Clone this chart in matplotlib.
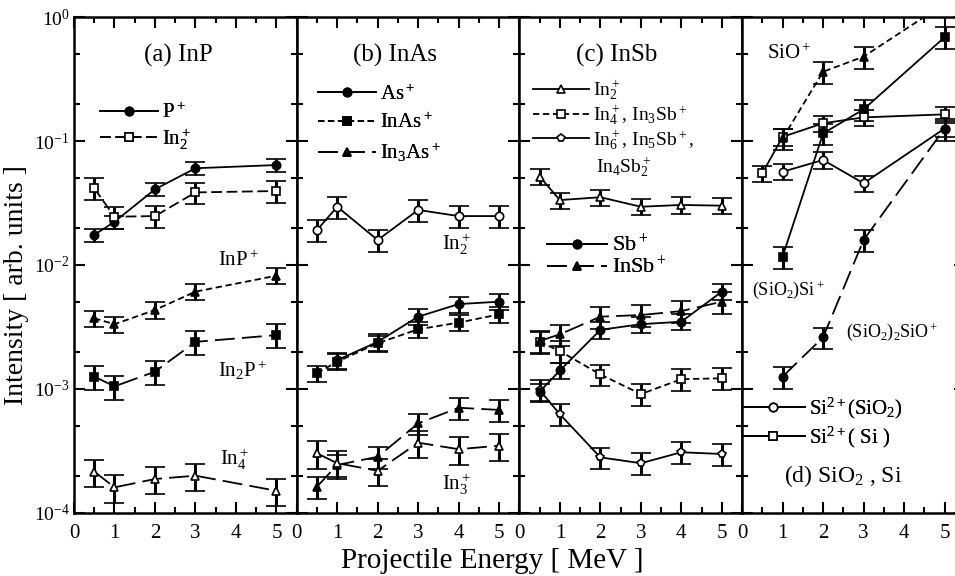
import matplotlib
matplotlib.use('Agg')
import matplotlib.pyplot as plt
from matplotlib.ticker import LogLocator, MultipleLocator, NullFormatter
import numpy as np

plt.rcParams['font.family'] = ['Liberation Serif', 'DejaVu Serif']
plt.rcParams['mathtext.fontset'] = 'custom'
plt.rcParams['mathtext.rm'] = 'Liberation Serif'
plt.rcParams['mathtext.it'] = 'Liberation Serif'
plt.rcParams['mathtext.default'] = 'regular'

# ---- data (energy in MeV, intensity in arb. units) ----
x_a = [0.5, 1, 2, 3, 5]
a_P = [0.0175, 0.0223, 0.0408, 0.0603, 0.064]
a_In2 = [0.0416, 0.0245, 0.0248, 0.0385, 0.0395]
a_InP = [0.00372, 0.00333, 0.00434, 0.0061, 0.0082]
a_In2P = [0.00126, 0.00105, 0.00138, 0.0024, 0.00272]
a_In4 = [0.000216, 0.000161, 0.000188, 0.0002, 0.000151]

x_b = [0.5, 1, 2, 3, 4, 5]
b_In2 = [0.0191, 0.0295, 0.0159, 0.0278, 0.0248, 0.0248]
x_b_As = [1, 2, 3, 4, 5]
b_As = [0.00171, 0.0024, 0.00383, 0.00484, 0.00506]
b_InAs = [0.00134, 0.00166, 0.00234, 0.00303, 0.00343, 0.0040]
b_In3As = [0.000163, 0.000244, 0.000284, 0.000528, 0.000706, 0.000678]
b_In3 = [0.000303, 0.000252, 0.000219, 0.000369, 0.000327, 0.000349]

x_c = [0.5, 1, 2, 3, 4, 5]
c_In2 = [0.0515, 0.0334, 0.0352, 0.0295, 0.0305, 0.0301]
c_In4 = [0.0024, 0.00202, 0.00131, 0.00091, 0.0012, 0.00122]
c_In6 = [0.00098, 0.000625, 0.000281, 0.000252, 0.000309, 0.000299]
c_Sb = [0.00095, 0.00141, 0.0030, 0.00333, 0.00349, 0.0061]
c_InSb = [0.00244, 0.00276, 0.00383, 0.00395, 0.00425, 0.00506]

x_d = [1, 2, 3, 5]
x_d_Si = [0.5, 1, 2, 3, 5]
d_Si2_SiO2 = [0.0565, 0.0703, 0.0456, 0.126]
d_Si2_Si = [0.055, 0.108, 0.139, 0.155, 0.164]
d_SiO = [0.105, 0.362, 0.479, 1.28]
d_SiO2Si = [0.0117, 0.115, 0.180, 0.686]
d_SiO22SiO = [0.00126, 0.00261, 0.0159, 0.126]

# relative error bars
err_frac = 0.2

SOLID = '-'
SHORT = (0, (3.5, 2))
MED = (0, (6, 2.5))
LONG = (0, (11, 4))

fig = plt.figure(figsize=(9.55, 5.76), dpi=100)
W, H = 955.0, 576.0
left0, pw, top, bot = 74.0, 222.7, 17.0, 513.0
axes = []
for i in range(4):
    ax = fig.add_axes([(left0 + i * pw) / W, 1 - bot / H, pw / W, (bot - top) / H])
    axes.append(ax)


def series(ax, x, y, marker, filled, ls, label=None, frac=err_frac):
    y = np.array(y)
    ax.errorbar(x, y, yerr=frac * y, color='black', ls=ls, lw=1.3,
                marker=marker, ms=6, mfc='black' if filled else 'white',
                mec='black', mew=1.2, capsize=7, capthick=2.2,
                elinewidth=2.2, label=label)


def add_legend(ax, sel, anchor, fs, hl, sp):
    h, l = ax.get_legend_handles_labels()
    leg = ax.legend([h[k][0] for k in sel], [l[k] for k in sel], loc='upper left',
                    bbox_to_anchor=anchor, frameon=False, fontsize=fs,
                    handlelength=hl, handletextpad=0.2, labelspacing=sp,
                    borderpad=0, borderaxespad=0)
    ax.add_artist(leg)


for i, ax in enumerate(axes):
    ax.set_yscale('log')
    ax.set_ylim(1e-4, 1)
    ax.set_xlim(0, 5.5)
    ax.xaxis.set_major_locator(MultipleLocator(1))
    ax.xaxis.set_minor_locator(MultipleLocator(0.5))
    ax.yaxis.set_major_locator(LogLocator(base=10, numticks=10))
    ax.yaxis.set_minor_locator(LogLocator(base=10, subs=(2, 5), numticks=10))
    ax.yaxis.set_minor_formatter(NullFormatter())
    ax.tick_params(which='both', direction='in', top=True, right=True,
                   width=1.5, labelsize=15)
    ax.tick_params(axis='y', labelsize=14, pad=3)
    ax.tick_params(axis='x', which='major', pad=8)
    ax.tick_params(which='major', length=8)
    ax.tick_params(which='minor', length=4)
    for s in ax.spines.values():
        s.set_linewidth(1.8)
    if i > 0:
        ax.tick_params(labelleft=False)

ax = axes[0]
series(ax, x_a, a_P, 'o', True, SOLID, '$P^+$', 0.12)
series(ax, x_a, a_In2, 's', False, MED, '$In_2^+$')
series(ax, x_a, a_InP, '^', True, SHORT, None, 0.15)
series(ax, x_a, a_In2P, 's', True, LONG, None, 0.22)
series(ax, x_a, a_In4, '^', False, LONG, None, 0.25)
add_legend(ax, [0, 1], (0.115, 0.827), 15, 2.8, 0.15)
ax.text(2.57, 0.49, '(a) InP', fontsize=18, ha='center', va='center')
ax.text(3.55, 0.0108, '$InP^+$', fontsize=15, ha='left', va='center')
ax.text(3.55, 0.00142, '$In_2P^+$', fontsize=15, ha='left', va='center')
ax.text(3.6, 0.00027, '$In_4^+$', fontsize=15, ha='left', va='center')

ax = axes[1]
series(ax, x_b, b_In2, 'o', False, SOLID, None, 0.2)
series(ax, x_b_As, b_As, 'o', True, SOLID, '$As^+$', 0.15)
series(ax, x_b, b_InAs, 's', True, SHORT, '$InAs^+$', 0.15)
series(ax, x_b, b_In3As, '^', True, LONG, '$In_3As^+$', 0.2)
series(ax, x_b, b_In3, '^', False, LONG, None, 0.25)
add_legend(ax, [0, 1, 2], (0.095, 0.864), 15, 2.8, 0.4)
ax.text(2.43, 0.49, '(b) InAs', fontsize=18, ha='center', va='center')
ax.text(3.6, 0.0148, '$In_2^+$', fontsize=15, ha='left', va='center')
ax.text(3.6, 0.00017, '$In_3^+$', fontsize=15, ha='left', va='center')

ax = axes[2]
series(ax, x_c, c_In2, '^', False, SOLID, '$In_2^+$', 0.15)
series(ax, x_c, c_In4, 's', False, SHORT, '$In_4^+$, $In_3Sb^+$', 0.2)
series(ax, x_c, c_In6, 'p', False, SOLID, '$In_6^+$, $In_5Sb^+$,', 0.2)
series(ax, x_c, c_Sb, 'o', True, SOLID, '$Sb^+$', 0.15)
series(ax, x_c, c_InSb, '^', True, LONG, '$InSb^+$', 0.2)
add_legend(ax, [0, 1, 2], (0.06, 0.877), 14, 2.9, 0.05)
ax.text(1.88, 0.062, '$In_4Sb_2^+$', fontsize=14, ha='left', va='center')
add_legend(ax, [3, 4], (0.125, 0.56), 16, 2.7, 0.05)
ax.text(2.41, 0.49, '(c) InSb', fontsize=18, ha='center', va='center')

ax = axes[3]
series(ax, x_d, d_Si2_SiO2, 'o', False, SOLID, '$Si^{2+}(SiO_2)$', 0.15)
series(ax, x_d_Si, d_Si2_Si, 's', False, SOLID, '$Si^{2+}(\\ Si\\ )$', 0.15)
series(ax, x_d, d_SiO, '^', True, SHORT, None, 0.2)
series(ax, x_d, d_SiO2Si, 's', True, SOLID, None, 0.2)
series(ax, x_d, d_SiO22SiO, 'o', True, LONG, None, 0.2)
add_legend(ax, [0, 1], (0.0, 0.236), 15, 3.0, 0.15)
ax.text(0.62, 0.5, '$SiO^+$', fontsize=15, ha='left', va='center')
ax.text(0.25, 0.0063, '$(SiO_2)Si^+$', fontsize=13, ha='left', va='center')
ax.text(2.56, 0.0029, '$(SiO_2)_2SiO^+$', fontsize=13, ha='left', va='center')
ax.text(2.5, 0.0002, '(d) SiO$_2$ , Si', fontsize=17, ha='center', va='center')

fig.text(492 / W, 1 - 561 / H, 'Projectile Energy [ MeV ]', fontsize=21,
         ha='center', va='center')
fig.text(17 / W, 1 - 285 / H, 'Intensity [ arb. units ]', fontsize=20,
         ha='center', va='center', rotation=90)

fig.savefig('out.png', dpi=100)
